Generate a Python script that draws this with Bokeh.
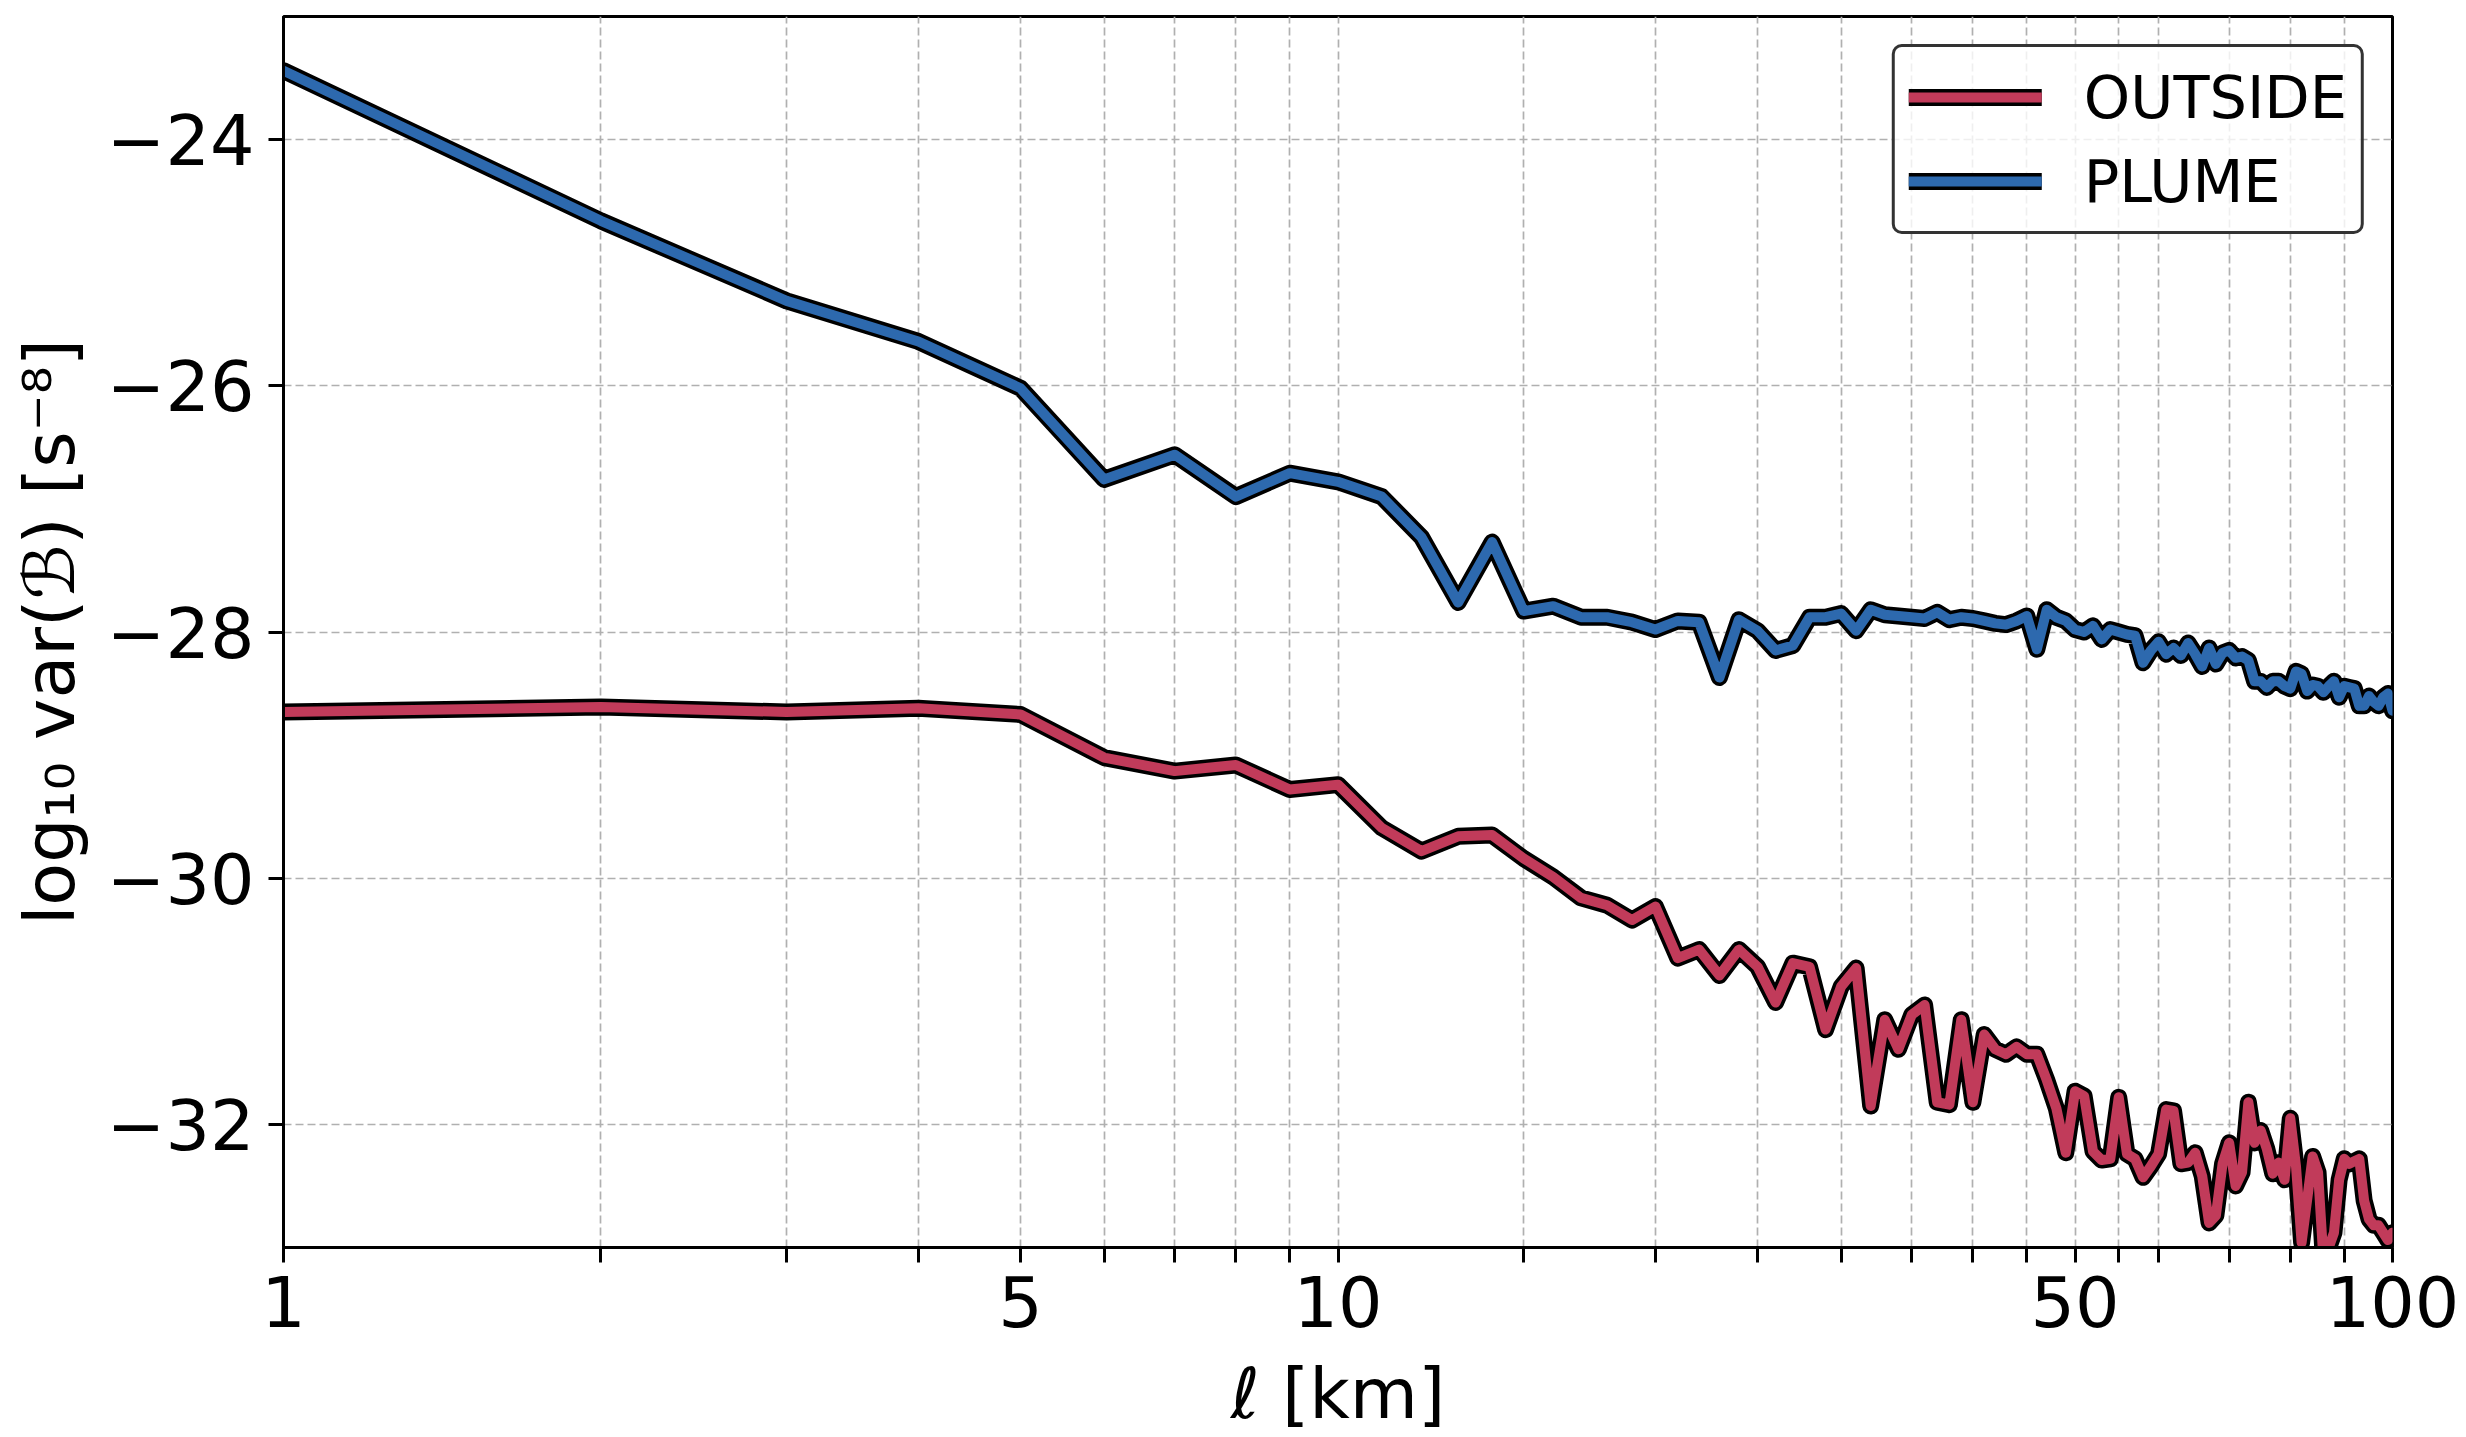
from bokeh.plotting import figure
from bokeh.models import (Range1d, FixedTicker, CustomJSTickFormatter, Legend,
                          LegendItem, ColumnDataSource)
from bokeh.embed import file_html
from bokeh.resources import INLINE

# ---- data -------------------------------------------------------------
scale_km = list(range(1, 101))

plume = [
    -23.44, -24.66, -25.31, -25.64, -26.02, -26.76, -26.56, -26.90, -26.71, -26.78,
    -26.90, -27.23, -27.76, -27.27, -27.83, -27.79, -27.88, -27.88, -27.92, -27.98,
    -27.91, -27.92, -28.37, -27.90, -27.99, -28.15, -28.11, -27.88, -27.88, -27.85,
    -27.99, -27.82, -27.86, -27.87, -27.88, -27.89, -27.84, -27.90, -27.88, -27.89,
    -27.91, -27.93, -27.94, -27.91, -27.87, -28.14, -27.82, -27.88, -27.91, -27.98,
    -28.00, -27.95, -28.06, -27.98, -28.00, -28.02, -28.03, -28.25, -28.15, -28.08,
    -28.18, -28.13, -28.19, -28.09, -28.18, -28.28, -28.13, -28.26, -28.17, -28.15,
    -28.21, -28.20, -28.23, -28.40, -28.40, -28.45, -28.40, -28.40, -28.44, -28.46,
    -28.32, -28.34, -28.48, -28.43, -28.44, -28.49, -28.44, -28.40, -28.53, -28.44,
    -28.45, -28.46, -28.60, -28.60, -28.52, -28.57, -28.60, -28.53, -28.50, -28.64,
]

outside = [
    -28.65, -28.61, -28.65, -28.62, -28.67, -29.02, -29.13, -29.08, -29.28, -29.24,
    -29.59, -29.78, -29.66, -29.65, -29.84, -29.99, -30.16, -30.22, -30.34, -30.23,
    -30.65, -30.58, -30.79, -30.58, -30.72, -31.01, -30.69, -30.72, -31.23, -30.88,
    -30.73, -31.85, -31.15, -31.39, -31.11, -31.03, -31.82, -31.84, -31.15, -31.82,
    -31.27, -31.39, -31.43, -31.37, -31.43, -31.43, -31.64, -31.87, -32.23, -31.73,
    -31.77, -32.22, -32.29, -32.28, -31.78, -32.24, -32.28, -32.43, -32.34, -32.24,
    -31.88, -31.89, -32.32, -32.31, -32.23, -32.42, -32.80, -32.74, -32.32, -32.15,
    -32.50, -32.39, -31.82, -32.15, -32.05, -32.20, -32.40, -32.31, -32.45, -31.95,
    -32.34, -32.96, -32.61, -32.26, -32.39, -33.10, -33.00, -32.88, -32.45, -32.28,
    -32.32, -32.30, -32.28, -32.62, -32.77, -32.82, -32.82, -32.88, -32.94, -32.88,
]

x_major_ticks = [1, 5, 10, 50, 100]
x_minor_ticks = [2, 3, 4, 6, 7, 8, 9, 15, 20, 25, 30, 35, 40, 45, 55, 60, 70, 80, 90]
y_major_ticks = [-32, -30, -28, -26, -24]

series_names = ["OUTSIDE", "PLUME"]
series_colors = ["#C13B5A", "#2D69AE"]

FONT = "DejaVu Sans"

# ---- figure -----------------------------------------------------------
p = figure(width=2466, height=1437, x_axis_type="log",
           x_range=Range1d(1, 100), y_range=Range1d(-33, -23),
           output_backend="svg", toolbar_location=None,
           min_border_left=283, min_border_right=74,
           min_border_top=16, min_border_bottom=190)

p.background_fill_color = "white"
p.border_fill_color = "white"
p.outline_line_color = "black"
p.outline_line_width = 3
p.outline_line_alpha = 1.0

x_ticker = FixedTicker(ticks=x_major_ticks, minor_ticks=x_minor_ticks)
y_ticker = FixedTicker(ticks=y_major_ticks, minor_ticks=[])

xa = p.xaxis[0]
ya = p.yaxis[0]
xa.ticker = x_ticker
ya.ticker = y_ticker
xa.formatter = CustomJSTickFormatter(code="return String(tick);")
ya.formatter = CustomJSTickFormatter(
    code="return (tick < 0 ? '\u2212' : '') + String(Math.abs(tick));")

for ax in (xa, ya):
    ax.axis_line_width = 3
    ax.axis_line_color = "black"
    ax.major_tick_line_width = 3
    ax.major_tick_line_color = "black"
    ax.major_tick_out = 15
    ax.major_tick_in = 0
    ax.major_label_text_font = FONT
    ax.major_label_text_font_size = "70px"
    ax.major_label_text_color = "black"
    ax.axis_label_text_font = FONT
    ax.axis_label_text_font_size = "70px"
    ax.axis_label_text_font_style = "normal"
    ax.axis_label_text_color = "black"

xa.minor_tick_line_width = 3
xa.minor_tick_line_color = "black"
xa.minor_tick_out = 15
xa.minor_tick_in = 0
xa.major_label_standoff = 13
xa.axis_label_standoff = 23
xa.axis_label = "\u2113 [km]"

ya.minor_tick_line_color = None
ya.major_label_standoff = 14
ya.axis_label_standoff = 13
ya.axis_label = "log\u2081\u2080 var(\u212C) [s\u207B\u2078]"

# grid
p.xgrid.ticker = x_ticker
p.ygrid.ticker = y_ticker
for g in (p.xgrid[0], p.ygrid[0]):
    g.grid_line_color = "#b0b0b0"
    g.grid_line_dash = "8 4"
    g.grid_line_width = 1.7
p.xgrid.minor_grid_line_color = "#b0b0b0"
p.xgrid.minor_grid_line_dash = "8 4"
p.xgrid.minor_grid_line_width = 1.7

# ---- lines ------------------------------------------------------------
src = ColumnDataSource(dict(l=scale_km, outside=outside, plume=plume))

items = []
for name, col, color in zip(series_names, ["outside", "plume"], series_colors):
    rk = p.line("l", col, source=src, line_color="black", line_width=17,
                line_join="round", line_cap="round")
    rc = p.line("l", col, source=src, line_color=color, line_width=10,
                line_join="round", line_cap="round")
    items.append(LegendItem(label=name, renderers=[rk, rc]))

legend = Legend(items=items, location="top_right")
legend.label_text_font = FONT
legend.label_text_font_size = "59px"
legend.label_text_color = "black"
legend.border_line_color = "#333333"
legend.border_line_width = 3
legend.border_line_alpha = 1.0
legend.background_fill_color = "white"
legend.background_fill_alpha = 0.8
legend.margin = 28
legend.padding = 14
legend.spacing = 12
legend.glyph_width = 133
legend.glyph_height = 72
legend.label_height = 72
legend.label_standoff = 42
if "border_radius" in Legend.properties():
    legend.border_radius = 10
p.add_layout(legend)

open("out.html", "w").write(file_html(p, INLINE))
